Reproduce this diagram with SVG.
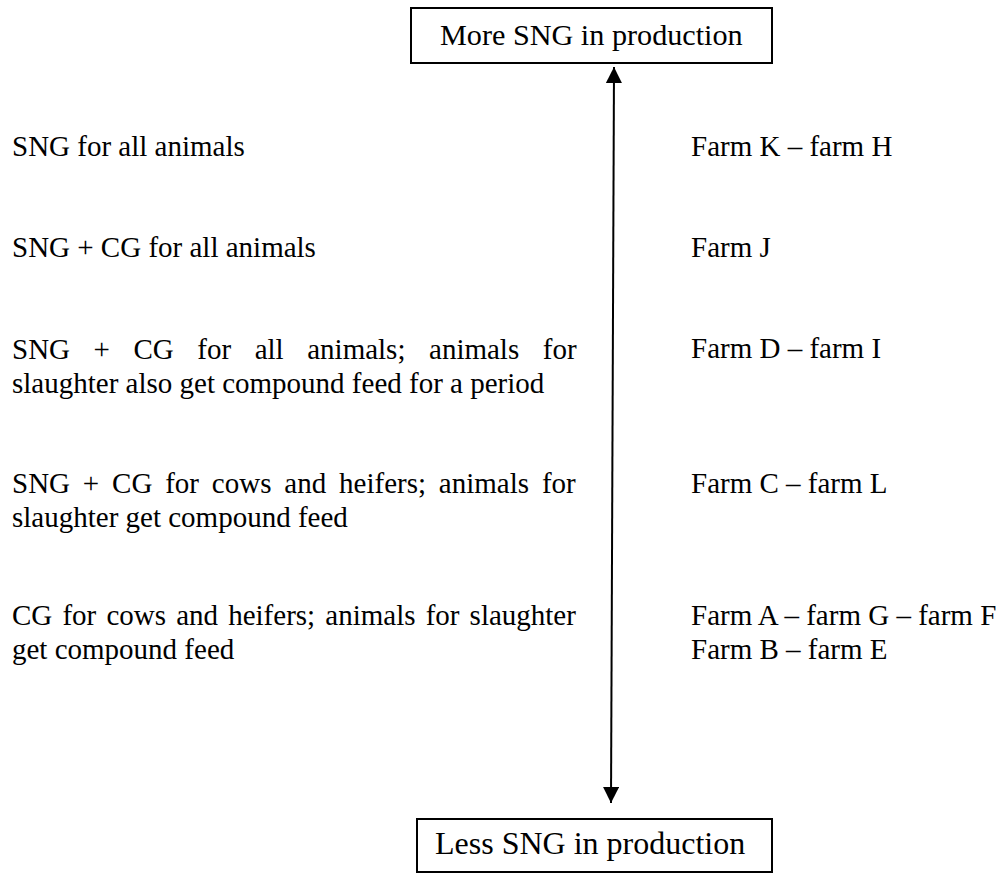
<svg xmlns="http://www.w3.org/2000/svg" width="1005" height="873" viewBox="0 0 1005 873">
  <style>
    .t { font-family: "Liberation Serif", "Times New Roman", serif; font-size: 29px; fill: #000; }
    .box { fill: #fff; stroke: #000; stroke-width: 2; }
    .axis { stroke: #000; stroke-width: 2; fill: none; }
  </style>
  <defs>
    <marker id="head" markerUnits="userSpaceOnUse" markerWidth="16" markerHeight="16" viewBox="0 0 16 16" refX="16" refY="8" orient="auto-start-reverse">
      <path d="M0,0 L16,8 L0,16 Z" fill="#000"/>
    </marker>
  </defs>
  <rect width="1005" height="873" fill="#fff"/>

  <!-- double-headed scale axis -->
  <g id="connectors">
    <line class="axis" x1="614" y1="67" x2="611" y2="803" marker-start="url(#head)" marker-end="url(#head)"/>
  </g>

  <g id="node-more">
    <rect class="box" x="411" y="8" width="361" height="55"/>
    <text class="t" x="440" y="45" style="font-size:30.2px">More SNG in production</text>
  </g>

  <g id="node-less">
    <rect class="box" x="417" y="819" width="355" height="53"/>
    <text class="t" x="435" y="854" style="font-size:32px">Less SNG in production</text>
  </g>

  <!-- feeding strategies, left column -->
  <g id="strategies">
    <text class="t" x="12" y="156">SNG for all animals</text>
    <text class="t" x="12" y="257">SNG + CG for all animals</text>
    <text class="t" x="12" y="359" word-spacing="16.3">SNG + CG for all animals; animals for</text>
    <text class="t" x="12" y="393">slaughter also get compound feed for a period</text>
    <text class="t" x="12" y="493" word-spacing="5.6">SNG + CG for cows and heifers; animals for</text>
    <text class="t" x="12" y="527">slaughter get compound feed</text>
    <text class="t" x="12" y="625" word-spacing="2.9">CG for cows and heifers; animals for slaughter</text>
    <text class="t" x="12" y="659">get compound feed</text>
  </g>

  <!-- farms, right column -->
  <g id="farms">
    <text class="t" x="691" y="156">Farm K – farm H</text>
    <text class="t" x="691" y="257">Farm J</text>
    <text class="t" x="691" y="358">Farm D – farm I</text>
    <text class="t" x="691" y="493">Farm C – farm L</text>
    <text class="t" x="691" y="625">Farm A – farm G – farm F</text>
    <text class="t" x="691" y="659">Farm B – farm E</text>
  </g>
</svg>
